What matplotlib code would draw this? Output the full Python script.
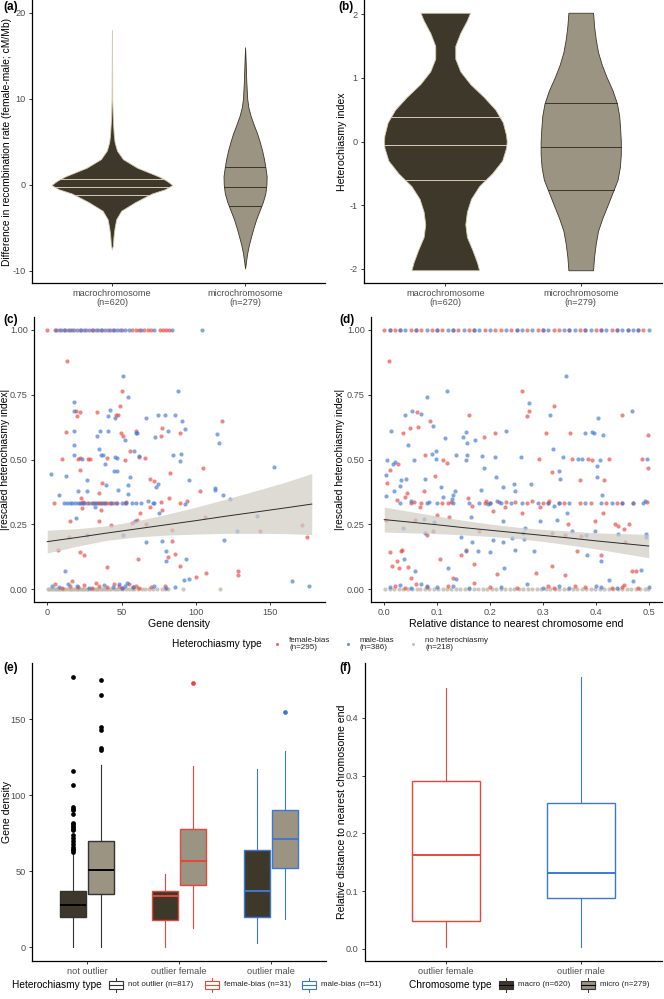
import matplotlib
matplotlib.use("Agg")
import matplotlib.pyplot as plt
from matplotlib.patches import Rectangle
from matplotlib.ticker import FormatStrFormatter
import numpy as np

plt.rcParams['font.family'] = ['Liberation Sans', 'DejaVu Sans']
plt.rcParams['axes.unicode_minus'] = False

## ---- colours
MACRO = '#3d3829'
MICRO = '#9c9482'
RED = '#e8463a'
BLUE = '#3d77d6'
GREY = '#bdb6a6'

## ---- (a) violin profiles: value, half width
a_macro_y = [-7.5, -7, -6, -5, -4, -3, -2, -1, -0.5, 0, 0.5, 1, 2, 3, 4, 5, 6, 8, 10, 18]
a_macro_w = [0, 0.008, 0.012, 0.02, 0.032, 0.07, 0.175, 0.30, 0.40, 0.454, 0.41, 0.35, 0.19, 0.083, 0.038, 0.02, 0.013, 0.006, 0.003, 0]
a_macro_q = [-1.16, -0.2, 0.7]
a_micro_y = [-9.7, -9, -8, -7, -6, -5, -4, -3, -2, -1, 0, 1, 2, 3, 4, 5, 6, 7, 8, 9, 10, 12, 14, 16]
a_micro_w = [0, 0.006, 0.015, 0.028, 0.045, 0.063, 0.083, 0.108, 0.133, 0.152, 0.16, 0.162, 0.153,
             0.142, 0.128, 0.11, 0.09, 0.065, 0.042, 0.025, 0.016, 0.009, 0.005, 0]
a_micro_q = [-2.5, -0.23, 2.1]

## ---- (b) violin profiles
b_macro_y = [-2.02, -1.9, -1.7, -1.5, -1.3, -1.1, -0.9, -0.7, -0.5, -0.3, -0.1, 0, 0.1, 0.3, 0.5,
             0.7, 0.9, 1.1, 1.3, 1.5, 1.7, 1.9, 2.02]
b_macro_w = [0.25, 0.235, 0.2, 0.16, 0.148, 0.16, 0.19, 0.25, 0.346, 0.42, 0.449, 0.454, 0.449,
             0.425, 0.37, 0.284, 0.185, 0.111, 0.074, 0.074, 0.11, 0.16, 0.183]
b_macro_q = [-0.61, -0.06, 0.39]
b_micro_y = [-2.02, -1.8, -1.6, -1.4, -1.2, -1.0, -0.8, -0.6, -0.4, -0.2, 0, 0.2, 0.4, 0.6, 0.8,
             1.0, 1.2, 1.4, 1.6, 1.8, 2.02]
b_micro_w = [0.091, 0.099, 0.111, 0.128, 0.16, 0.198, 0.235, 0.272, 0.289, 0.296, 0.296, 0.291,
             0.284, 0.267, 0.235, 0.193, 0.156, 0.128, 0.111, 0.099, 0.091]
b_micro_q = [-0.76, -0.08, 0.6]

chrom_labels = ['macrochromosome\n(n=620)', 'microchromosome\n(n=279)']

## ---- (c) gene density vs |rescaled heterochiasmy index|
c_female = [(13, 0.879), (9.9, 0.503), (4.8, 0.331), (7, 0.15), (12.8, 0.605), (15.2, 0.264),
            (14.8, 0.2), (19.6, 0.686), (19.8, 0.669), (22, 0.683), (20.7, 0.502), (22, 0.461),
            (22.2, 0.506), (23, 0.351), (23.6, 0.313), (21.8, 0.142), (25, 0.131), (24.4, 0.336),
            (27.3, 0.502), (28.6, 0.502), (33.5, 0.683), (35, 0.371), (34.6, 0.261), (36.3, 0.304),
            (36.6, 0.409), (40.5, 0.506), (43, 0.248), (40.5, 0.086), (46, 0.673), (47.8, 0.673),
            (49.3, 0.705), (50.4, 0.763), (49.6, 0.602), (50.7, 0.589), (52.2, 0.499), (53.3, 0.335),
            (55.5, 0.532), (57, 0.255), (59.7, 0.611), (61.5, 0.51), (60.6, 0.268), (62.3, 0.293),
            (61, 0.117), (65.9, 0.506), (66.3, 0.251), (69.2, 0.425), (69.4, 0.315), (71.9, 0.418),
            (76.4, 0.592), (77.3, 0.622), (76.4, 0.335), (77.3, 0.304), (81.3, 0.124), (82.2, 0.351),
            (82.8, 0.448), (83.9, 0.229), (83.9, 0.184), (86.1, 0.136), (89.2, 0.602), (89.2, 0.331),
            (89.6, 0.09), (94, 0.338), (99.8, 0.048), (102.6, 0.377), (104.6, 0.466), (106, 0.278),
            (106.5, 0.062), (117.6, 0.647), (128.2, 0.068), (128.2, 0.055), (143, 0.223),
            (171.6, 0.247), (174.7, 0.2),
            (5, 0.02), (10, 0.005), (15, 0.01), (17, 0.03), (21, 0.008), (25, 0.015), (30, 0.004),
            (33, 0.025), (35, 0.01), (40, 0.006), (45, 0.02), (48, 0.012), (50, 0.003), (55, 0.018),
            (58, 0.008), (60, 0.01), (62, 0.004), (70, 0.006), (79, 0.012)]
c_female_top = [0, 5, 8, 12, 15, 18, 22, 26, 30, 33, 37, 41, 45, 50, 57, 60, 62, 65, 68, 70, 76, 78, 80, 82]
c_female_third = [22, 24, 27, 30, 32, 34, 35, 37, 38, 40, 42, 44, 47, 52]
c_male = [(2.4, 0.443), (8.1, 0.363), (12.1, 0.071), (12.8, 0.438), (17.8, 0.555), (18.3, 0.721),
          (18.3, 0.686), (18.3, 0.611), (18.3, 0.519), (20.5, 0.377), (19.6, 0.274), (23.6, 0.502),
          (26.7, 0.422), (26.7, 0.38), (26.7, 0.21), (31.9, 0.315), (33.5, 0.591), (35.5, 0.609),
          (35, 0.541), (36.1, 0.516), (37.2, 0.519), (38.8, 0.484), (39.4, 0.403), (40.7, 0.668),
          (42.3, 0.69), (41.2, 0.609), (45.4, 0.66), (45.6, 0.508), (47.1, 0.506), (47.1, 0.454),
          (47.6, 0.384), (44.9, 0.454), (51.3, 0.824), (52, 0.577), (50.9, 0.21), (54.2, 0.74),
          (54.2, 0.403), (54.4, 0.367), (55.9, 0.431), (58.1, 0.532), (58.8, 0.261), (59.7, 0.604),
          (60.4, 0.601), (61.9, 0.515), (66.3, 0.181), (66.5, 0.66), (68.1, 0.338), (71.8, 0.331),
          (72.5, 0.586), (73.1, 0.393), (74.2, 0.405), (74.7, 0.673), (75.1, 0.292), (76.9, 0.184),
          (79.1, 0.671), (79.7, 0.107), (80.2, 0.145), (81.3, 0.61), (84.6, 0.519), (86.1, 0.673),
          (87.9, 0.763), (89.2, 0.493), (89.9, 0.522), (90.5, 0.647), (92.5, 0.328), (92.7, 0.618),
          (93.4, 0.116), (95.4, 0.422), (92.3, 0.036), (95.6, 0.04), (113.2, 0.39), (113.2, 0.381),
          (113.9, 0.598), (115.6, 0.564), (118, 0.362), (118.7, 0.19), (123.1, 0.346),
          (127.5, 0.223), (141.2, 0.281), (152.9, 0.47), (165, 0.03), (176, 0.01),
          (3, 0.01), (8, 0.006), (14, 0.02), (20, 0.012), (28, 0.004), (38, 0.015), (44, 0.008),
          (48, 0.018), (50, 0.005), (52, 0.01), (54, 0.022), (58, 0.006), (72, 0.012), (80, 0.004),
          (86, 0.008)]
c_male_top = [6, 9, 11, 14, 17, 20, 23, 25, 28, 31, 34, 36, 39, 42, 44, 47, 49, 52, 55, 63, 72, 84, 104]
c_male_third = [11, 13, 15, 17, 19, 21, 23, 25, 28, 31, 33, 36, 39, 43, 46, 50, 53, 57, 60, 63, 71]
c_none = [0.4, 1.3, 2.7, 3.9, 5.1, 6.2, 7.4, 8.1, 9.5, 10.7, 11.6, 12.9, 13.8, 15.0, 16.3, 17.1,
          18.4, 19.7, 20.6, 21.9, 23.2, 24.1, 25.5, 26.8, 27.6, 28.9, 30.3, 31.2, 32.6, 33.7, 35.1,
          36.4, 37.3, 38.8, 40.1, 41.5, 43.0, 44.6, 46.2, 47.9, 49.5, 51.1, 53.0, 54.8, 56.9, 58.7,
          61.2, 63.5, 66.1, 68.8, 71.4, 74.0, 76.9, 79.5, 81.0, 91.5, 116.0]
c_fit_x = [0, 20, 40, 60, 80, 100, 120, 140, 160, 178]
c_fit_y = [0.183, 0.199, 0.216, 0.232, 0.248, 0.264, 0.281, 0.297, 0.313, 0.328]
c_fit_se = [0.044, 0.034, 0.028, 0.031, 0.040, 0.052, 0.066, 0.082, 0.099, 0.118]

## ---- (d) relative distance vs |rescaled heterochiasmy index|
d_female = [(0.009, 0.879), (0.006, 0.409), (0.011, 0.461), (0.003, 0.266), (0.011, 0.142),
            (0.014, 0.088), (0.025, 0.107), (0.028, 0.081), (0.031, 0.148), (0.034, 0.152),
            (0.025, 0.342), (0.026, 0.483), (0.035, 0.602), (0.039, 0.354), (0.043, 0.371),
            (0.045, 0.086), (0.048, 0.622), (0.051, 0.042), (0.056, 0.336), (0.059, 0.268),
            (0.062, 0.682), (0.064, 0.625), (0.068, 0.315), (0.075, 0.377), (0.077, 0.516),
            (0.08, 0.21), (0.086, 0.647), (0.093, 0.225), (0.096, 0.435), (0.099, 0.284),
            (0.106, 0.116), (0.112, 0.499), (0.118, 0.486), (0.123, 0.277), (0.126, 0.336),
            (0.13, 0.042), (0.146, 0.133), (0.154, 0.152), (0.158, 0.351), (0.161, 0.673),
            (0.166, 0.319), (0.169, 0.097), (0.18, 0.225), (0.189, 0.586), (0.193, 0.341),
            (0.205, 0.3), (0.21, 0.602), (0.214, 0.058), (0.217, 0.336), (0.228, 0.315),
            (0.23, 0.336), (0.248, 0.336), (0.26, 0.766), (0.261, 0.293), (0.269, 0.669),
            (0.273, 0.686), (0.28, 0.338), (0.287, 0.062), (0.292, 0.503), (0.295, 0.315),
            (0.306, 0.602), (0.311, 0.338), (0.317, 0.45), (0.318, 0.215), (0.318, 0.089),
            (0.32, 0.705), (0.342, 0.21), (0.342, 0.055), (0.348, 0.251), (0.351, 0.602),
            (0.354, 0.503), (0.365, 0.145), (0.37, 0.422), (0.371, 0.203), (0.385, 0.503),
            (0.393, 0.499), (0.399, 0.261), (0.409, 0.133), (0.413, 0.293), (0.416, 0.422),
            (0.424, 0.503), (0.437, 0.251), (0.441, 0.242), (0.45, 0.673), (0.453, 0.233),
            (0.455, 0.181), (0.463, 0.251), (0.469, 0.071), (0.475, 0.071), (0.488, 0.503),
            (0.498, 0.596), (0.499, 0.467), (0.497, 0.336), (0.453, 0.017),
            (0.02, 0.01), (0.04, 0.005), (0.06, 0.02), (0.08, 0.008), (0.12, 0.012), (0.17, 0.025),
            (0.2, 0.006), (0.25, 0.004), (0.31, 0.01), (0.32, 0.003), (0.36, 0.012), (0.38, 0.006),
            (0.43, 0.004), (0.45, 0.008), (0.48, 0.005)]
d_female_top = [0.0, 0.01, 0.02, 0.03, 0.05, 0.06, 0.07, 0.09, 0.1, 0.11, 0.13, 0.14, 0.16, 0.17,
                0.19, 0.21, 0.22, 0.24, 0.25, 0.27, 0.29, 0.3, 0.32, 0.33, 0.35, 0.37, 0.38, 0.4,
                0.41, 0.43, 0.44, 0.46, 0.48, 0.49]
d_female_third = [0.05, 0.07, 0.11, 0.12, 0.19, 0.2, 0.27, 0.3, 0.31, 0.33, 0.34, 0.37, 0.39,
                  0.42, 0.44, 0.45, 0.47]
d_male = [(0.003, 0.441), (0.004, 0.36), (0.006, 0.497), (0.012, 0.609), (0.016, 0.483),
          (0.019, 0.38), (0.021, 0.49), (0.03, 0.396), (0.032, 0.42), (0.036, 0.236), (0.037, 0.117),
          (0.039, 0.671), (0.042, 0.425), (0.045, 0.555), (0.05, 0.341), (0.052, 0.689),
          (0.056, 0.499), (0.059, 0.071), (0.07, 0.676), (0.075, 0.272), (0.077, 0.216),
          (0.078, 0.425), (0.08, 0.743), (0.084, 0.336), (0.091, 0.521), (0.094, 0.259),
          (0.097, 0.503), (0.093, 0.628), (0.098, 0.532), (0.107, 0.393), (0.112, 0.354),
          (0.115, 0.583), (0.118, 0.763), (0.121, 0.081), (0.129, 0.349), (0.13, 0.364),
          (0.134, 0.38), (0.135, 0.519), (0.135, 0.04), (0.145, 0.2), (0.148, 0.587), (0.154, 0.499),
          (0.154, 0.145), (0.155, 0.605), (0.157, 0.564), (0.157, 0.519), (0.164, 0.278),
          (0.165, 0.181), (0.171, 0.577), (0.177, 0.145), (0.184, 0.515), (0.189, 0.467),
          (0.183, 0.381), (0.196, 0.328), (0.199, 0.142), (0.205, 0.19), (0.209, 0.508),
          (0.211, 0.431), (0.214, 0.338), (0.224, 0.393), (0.225, 0.264), (0.225, 0.181),
          (0.227, 0.081), (0.231, 0.611), (0.242, 0.197), (0.245, 0.405), (0.247, 0.38),
          (0.247, 0.152), (0.258, 0.51), (0.263, 0.216), (0.264, 0.193), (0.267, 0.236),
          (0.273, 0.719), (0.278, 0.407), (0.283, 0.145), (0.295, 0.261), (0.314, 0.673),
          (0.319, 0.541), (0.32, 0.322), (0.327, 0.268), (0.331, 0.454), (0.332, 0.426),
          (0.337, 0.51), (0.343, 0.824), (0.345, 0.293), (0.354, 0.225), (0.366, 0.503),
          (0.373, 0.502), (0.38, 0.602), (0.381, 0.21), (0.383, 0.133), (0.393, 0.606),
          (0.396, 0.602), (0.398, 0.225), (0.402, 0.434), (0.402, 0.474), (0.404, 0.66),
          (0.408, 0.499), (0.409, 0.109), (0.411, 0.362), (0.413, 0.596), (0.424, 0.036),
          (0.442, 0.212), (0.469, 0.686), (0.471, 0.03), (0.486, 0.075), (0.494, 0.212),
          (0.494, 0.2), (0.493, 0.341), (0.497, 0.503),
          (0.01, 0.008), (0.03, 0.015), (0.05, 0.004), (0.07, 0.02), (0.08, 0.01), (0.1, 0.006),
          (0.13, 0.012), (0.16, 0.004), (0.22, 0.008), (0.27, 0.018), (0.3, 0.005), (0.33, 0.01),
          (0.35, 0.004), (0.4, 0.012), (0.41, 0.006), (0.44, 0.004), (0.5, 0.008)]
d_male_top = [0.01, 0.03, 0.04, 0.06, 0.08, 0.1, 0.12, 0.13, 0.15, 0.17, 0.18, 0.2, 0.23, 0.25,
              0.26, 0.28, 0.3, 0.31, 0.34, 0.35, 0.36, 0.38, 0.39, 0.41, 0.42, 0.44, 0.45, 0.46,
              0.47, 0.48, 0.5]
d_male_third = [0.03, 0.08, 0.1, 0.13, 0.16, 0.18, 0.2, 0.22, 0.24, 0.26, 0.29, 0.31, 0.33, 0.35,
                0.38, 0.41, 0.43, 0.45, 0.47, 0.49]
d_none = [0.002, 0.011, 0.019, 0.027, 0.036, 0.044, 0.053, 0.061, 0.068, 0.077, 0.085, 0.094,
          0.102, 0.111, 0.118, 0.127, 0.135, 0.144, 0.152, 0.161, 0.169, 0.178, 0.186, 0.195,
          0.203, 0.212, 0.221, 0.229, 0.237, 0.246, 0.254, 0.263, 0.271, 0.28, 0.288, 0.297,
          0.305, 0.314, 0.322, 0.331, 0.339, 0.348, 0.356, 0.365, 0.373, 0.382, 0.39, 0.399,
          0.407, 0.416, 0.424, 0.433, 0.441, 0.45, 0.458, 0.467, 0.475, 0.484, 0.492, 0.499]
d_fit_x = [0, 0.05, 0.1, 0.15, 0.2, 0.25, 0.3, 0.35, 0.4, 0.45, 0.5]
d_fit_y = [0.268, 0.258, 0.248, 0.237, 0.227, 0.217, 0.207, 0.197, 0.186, 0.176, 0.166]
d_fit_se = [0.048, 0.041, 0.034, 0.028, 0.024, 0.022, 0.023, 0.027, 0.031, 0.038, 0.045]

## ---- (e) gene density box stats: whislo, q1, med, q3, whishi
outlier_cats = ['not outlier', 'outlier female', 'outlier male']
e_macro = [(0, 20, 28, 37, 62), (0, 18, 34, 37, 48), (3, 20, 37, 64, 117)]
e_micro = [(0, 35, 51, 70, 120), (13, 41, 57, 78, 119), (19, 52, 71, 90, 129)]
e_macro_fliers = [[63, 64, 65, 66, 68, 70, 72, 74, 77, 78, 79, 80, 81, 82, 88, 90, 91, 92, 107, 116, 178], [], []]
e_micro_fliers = [[130, 131, 143, 145, 166, 176], [174], [155]]
e_colours = ['#333333', RED, BLUE]

## ---- (f) relative distance box stats
f_cats = ['outlier female', 'outlier male']
f_stats = [(0.004, 0.048, 0.162, 0.291, 0.452), (0.003, 0.088, 0.132, 0.253, 0.471)]
f_colours = [RED, BLUE]

W, H = 664, 999
fig = plt.figure(figsize=(W / 100, H / 100), dpi=100)


def px_axes(l, t, r, b):
    ax = fig.add_axes([l / W, 1 - b / H, (r - l) / W, (b - t) / H])
    ax._px = (l, r)
    return ax


def classic(ax):
    for s in ['top', 'right']:
        ax.spines[s].set_visible(False)
    for s in ['left', 'bottom']:
        ax.spines[s].set_color('black')
        ax.spines[s].set_linewidth(0.9)
    ax.tick_params(colors='#333333', labelcolor='#4d4d4d', labelsize=6.6, length=2.5, width=0.7, pad=2)


def ylabel_at(ax, text, px, size=7.6):
    # px = pixel x of the right edge of the rotated label
    l, r = ax._px
    ax.set_ylabel(text, fontsize=size)
    ax.yaxis.set_label_coords((px - l) / (r - l), 0.5)


def violin(ax, pos, ys, ws, qs, fill, edge):
    ys = np.array(ys)
    ws = np.array(ws)
    ax.fill_betweenx(ys, pos - ws, pos + ws, facecolor=fill, edgecolor=edge, linewidth=0.6, zorder=2)
    for q in qs:
        w = np.interp(q, ys, ws)
        ax.plot([pos - w, pos + w], [q, q], color=edge, lw=0.7, zorder=3)


def bstats(t, fl=()):
    return dict(whislo=t[0], q1=t[1], med=t[2], q3=t[3], whishi=t[4], fliers=list(fl))


def unpack(pairs, top, third):
    xs = [p[0] for p in pairs] + list(top) + list(third)
    ys = [p[1] for p in pairs] + [1.0] * len(top) + [1 / 3] * len(third)
    return xs, ys


# (a)
ax = px_axes(32, 0, 325, 283)
classic(ax)
violin(ax, 1, a_macro_y, a_macro_w, a_macro_q, MACRO, '#d6ccb4')
violin(ax, 2, a_micro_y, a_micro_w, a_micro_q, MICRO, '#3a3526')
ax.set_xlim(0.4, 2.6)
ax.set_ylim(-11.4, 21.5)
ax.set_yticks([-10, 0, 10, 20])
ax.set_xticks([1, 2])
ax.set_xticklabels(chrom_labels, linespacing=0.95)
ylabel_at(ax, 'Difference in recombination rate (female-male; cM/Mb)', 12, 7.4)

# (b)
ax = px_axes(364, 0, 662, 283)
classic(ax)
violin(ax, 1, b_macro_y, b_macro_w, b_macro_q, MACRO, '#d6ccb4')
violin(ax, 2, b_micro_y, b_micro_w, b_micro_q, MICRO, '#3a3526')
ax.set_xlim(0.4, 2.6)
ax.set_ylim(-2.22, 2.22)
ax.set_yticks([-2, -1, 0, 1, 2])
ax.set_xticks([1, 2])
ax.set_xticklabels(chrom_labels, linespacing=0.95)
ylabel_at(ax, 'Heterochiasmy index', 347)


def scatter_panel(ax, female, ftop, fthird, male, mtop, mthird, none, fx, fy, fse):
    ax.scatter(none, [0] * len(none), s=9, color=GREY, alpha=0.75, lw=0, zorder=2)
    fxs, fys = unpack(female, ftop, fthird)
    ax.scatter(fxs, fys, s=9, color=RED, alpha=0.65, lw=0, zorder=3)
    mxs, mys = unpack(male, mtop, mthird)
    ax.scatter(mxs, mys, s=9, color=BLUE, alpha=0.65, lw=0, zorder=3)
    fx, fy, fse = map(np.array, (fx, fy, fse))
    ax.fill_between(fx, fy - fse, fy + fse, color='#cfccc3', alpha=0.7, lw=0, zorder=4)
    ax.plot(fx, fy, color='#2b2b2b', lw=0.7, zorder=5)
    ax.set_ylim(-0.05, 1.05)
    ax.set_yticks([0, 0.25, 0.5, 0.75, 1.0])
    ax.yaxis.set_major_formatter(FormatStrFormatter('%.2f'))


# (c)
ax = px_axes(34, 317, 325, 602)
classic(ax)
scatter_panel(ax, c_female, c_female_top, c_female_third, c_male, c_male_top, c_male_third,
              c_none, c_fit_x, c_fit_y, c_fit_se)
ax.set_xlim(-8.9, 186.9)
ax.set_xticks([0, 50, 100, 150])
ax.set_xlabel('Gene density', fontsize=7.6, labelpad=1)
ylabel_at(ax, '|rescaled heterochiasmy index|', 10, 7.4)

# (d)
ax = px_axes(371, 317, 662, 602)
classic(ax)
scatter_panel(ax, d_female, d_female_top, d_female_third, d_male, d_male_top, d_male_third,
              d_none, d_fit_x, d_fit_y, d_fit_se)
ax.set_xlim(-0.025, 0.525)
ax.set_xticks([0, 0.1, 0.2, 0.3, 0.4, 0.5])
ax.xaxis.set_major_formatter(FormatStrFormatter('%.1f'))
ax.set_xlabel('Relative distance to nearest chromosome end', fontsize=7.6, labelpad=1)
ylabel_at(ax, '|rescaled heterochiasmy index|', 345, 7.4)

# (e)
ax = px_axes(32, 663, 326, 961)
classic(ax)
for i, col in enumerate(e_colours):
    for off, stats, fl, fill in [(-0.15, e_macro[i], e_macro_fliers[i], MACRO),
                                 (0.15, e_micro[i], e_micro_fliers[i], MICRO)]:
        ax.bxp([bstats(stats, fl)], positions=[i + 1 + off], widths=0.28, patch_artist=True,
               showcaps=False,
               boxprops=dict(facecolor=fill, edgecolor=col, lw=1.0),
               whiskerprops=dict(color=col, lw=0.8),
               medianprops=dict(color='black' if i == 0 else col, lw=1.4),
               flierprops=dict(marker='o', markersize=3.4,
                               markerfacecolor='black' if i == 0 else col,
                               markeredgecolor='none'))
ax.set_xlim(0.4, 3.6)
ax.set_ylim(-8.9, 186.9)
ax.set_yticks([0, 50, 100, 150])
ax.set_xticks([1, 2, 3])
ax.set_xticklabels(outlier_cats)
ylabel_at(ax, 'Gene density', 12)

# (f)
ax = px_axes(365, 663, 662, 961)
classic(ax)
for i, col in enumerate(f_colours):
    ax.bxp([bstats(f_stats[i])], positions=[i + 1], widths=0.5, patch_artist=True, showcaps=False,
           boxprops=dict(facecolor='white', edgecolor=col, lw=1.0),
           whiskerprops=dict(color=col, lw=0.8),
           medianprops=dict(color=col, lw=1.4), showfliers=False)
ax.set_xlim(0.4, 2.6)
ax.set_ylim(-0.021, 0.495)
ax.set_yticks([0, 0.1, 0.2, 0.3, 0.4])
ax.yaxis.set_major_formatter(FormatStrFormatter('%.1f'))
ax.set_xticks([1, 2])
ax.set_xticklabels(f_cats)
ylabel_at(ax, 'Relative distance to nearest chromosome end', 347)

## ---- overlay for panel tags and legends (pixel coordinates)
ov = fig.add_axes([0, 0, 1, 1])
ov.set_xlim(0, W)
ov.set_ylim(H, 0)
ov.axis('off')
ov.patch.set_alpha(0)
for tag, x, y in [('(a)', 3, 7), ('(b)', 338, 7), ('(c)', 3, 320), ('(d)', 339, 320),
                  ('(e)', 3, 668), ('(f)', 339, 668)]:
    ov.text(x, y, tag, fontsize=8.5, fontweight='bold', va='center', ha='left')

# scatter legend
ov.text(172, 644, 'Heterochiasmy type', fontsize=7.3, va='center')
for x, col, lab in [(277, RED, 'female-bias\n(n=295)'), (348, BLUE, 'male-bias\n(n=386)'),
                    (413, GREY, 'no heterochiasmy\n(n=218)')]:
    ov.scatter([x], [644], s=5, color=col, alpha=0.8, lw=0)
    ov.text(x + 12, 644, lab, fontsize=5.8, va='center', linespacing=0.95, color='#222222')


def box_key(x, y, edge, fill):
    ov.plot([x + 7, x + 7], [y - 7, y - 4], color=edge, lw=0.7)
    ov.plot([x + 7, x + 7], [y + 4, y + 7], color=edge, lw=0.7)
    ov.add_patch(Rectangle((x, y - 4), 14, 8, facecolor=fill, edgecolor=edge, lw=0.8))
    ov.plot([x, x + 14], [y, y], color=edge if fill == 'none' else 'black', lw=0.8)


ly = 985
ov.text(12, ly, 'Heterochiasmy type', fontsize=7.3, va='center')
for x, col, lab in [(109, '#333333', 'not outlier (n=817)'), (205, RED, 'female-bias (n=31)'),
                    (302, BLUE, 'male-bias (n=51)')]:
    box_key(x, ly, col, 'none')
    ov.text(x + 19, ly, lab, fontsize=5.8, va='center', color='#222222')
ov.text(409, ly, 'Chromosome type', fontsize=7.3, va='center')
for x, fill, lab in [(499, MACRO, 'macro (n=620)'), (581, MICRO, 'micro (n=279)')]:
    box_key(x, ly, '#333333', fill)
    ov.text(x + 19, ly, lab, fontsize=5.8, va='center', color='#222222')

fig.savefig('out.png', dpi=100)
